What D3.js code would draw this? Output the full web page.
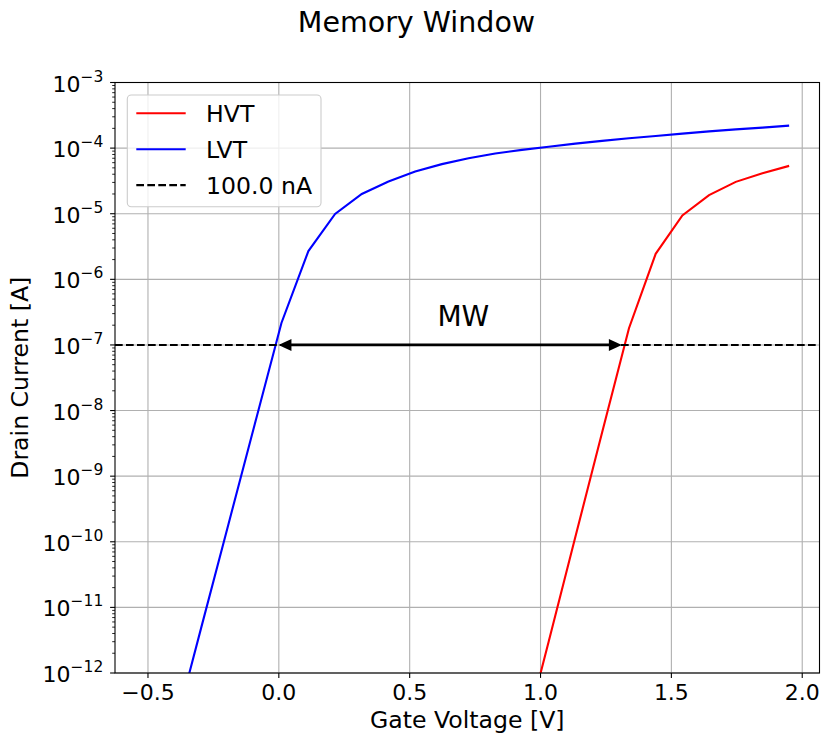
<!DOCTYPE html>
<html>
<head>
<meta charset="utf-8">
<script src="https://cdn.jsdelivr.net/npm/d3@7"></script>
<style>
  body { margin: 0; background: #fff; }
  svg text { font-family: "DejaVu Sans", sans-serif; fill: #000; }
</style>
</head>
<body>
<svg id="chart"></svg>
<script>
// gate voltage sweep [V]
var gateVoltage = [-0.5, -0.398, -0.296, -0.194, -0.092, 0.010, 0.113, 0.215, 0.317, 0.419,
                   0.521, 0.623, 0.725, 0.827, 0.929, 1.031, 1.133, 1.235, 1.338, 1.440,
                   1.542, 1.644, 1.746, 1.848, 1.950];
// drain current [A]
var lvtCurrent = [4.1e-15, 1.4e-13, 5.0e-12, 1.76e-10, 6.2e-9, 2.16e-7, 2.7e-6, 9.9e-6, 2.0e-5, 3.1e-5,
                  4.4e-5, 5.7e-5, 7.0e-5, 8.3e-5, 9.4e-5, 1.05e-4, 1.17e-4, 1.29e-4, 1.41e-4, 1.53e-4,
                  1.66e-4, 1.80e-4, 1.93e-4, 2.05e-4, 2.2e-4];
var hvtCurrent = [null, null, null, null, null, null, null, null, null, null,
                  null, null, null, null, 7.8e-14, 3.0e-12, 1.18e-10, 4.6e-9, 1.8e-7, 2.45e-6,
                  9.4e-6, 1.92e-5, 3.06e-5, 4.15e-5, 5.36e-5];
var readCurrent = 1e-7; // 100.0 nA
var xTicks = [-0.5, 0.0, 0.5, 1.0, 1.5, 2.0];
var yExponents = [-3, -4, -5, -6, -7, -8, -9, -10, -11, -12];
var seriesNames = ["HVT", "LVT", "100.0 nA"];

var svgWidth = 829, svgHeight = 739;
var margin = { top: 82.5, right: 9.5, bottom: 66, left: 115 };
var width = svgWidth - margin.left - margin.right;
var height = svgHeight - margin.top - margin.bottom;

var svg = d3.select("#chart")
            .attr("width", svgWidth)
            .attr("height", svgHeight);

var g = svg.append("g")
           .attr("transform", "translate(" + margin.left + "," + margin.top + ")");

var x = d3.scaleLinear().domain([-0.626, 2.066]).range([0, width]);
var y = d3.scaleLog().domain([1e-12, 1e-3]).range([height, 0]);

// grid
g.append("g").selectAll("line")
  .data(xTicks).enter().append("line")
  .attr("x1", function(d) { return x(d); }).attr("x2", function(d) { return x(d); })
  .attr("y1", 0).attr("y2", height)
  .attr("stroke", "#b0b0b0").attr("stroke-width", 1.1);
g.append("g").selectAll("line")
  .data(yExponents).enter().append("line")
  .attr("x1", 0).attr("x2", width)
  .attr("y1", function(d) { return y(Math.pow(10, d)); })
  .attr("y2", function(d) { return y(Math.pow(10, d)); })
  .attr("stroke", "#b0b0b0").attr("stroke-width", 1.1);

// clip
g.append("defs").append("clipPath").attr("id", "clip")
  .append("rect").attr("width", width).attr("height", height);

var plot = g.append("g").attr("clip-path", "url(#clip)");

var line = d3.line()
  .defined(function(d) { return d[1] != null; })
  .x(function(d) { return x(d[0]); })
  .y(function(d) { return y(d[1]); });

function pairs(vals) {
  return gateVoltage.map(function(v, i) { return [v, vals[i]]; });
}

plot.append("path").datum(pairs(hvtCurrent))
  .attr("fill", "none").attr("stroke", "red").attr("stroke-width", 2.1)
  .attr("d", line);
plot.append("path").datum(pairs(lvtCurrent))
  .attr("fill", "none").attr("stroke", "blue").attr("stroke-width", 2.1)
  .attr("d", line);
plot.append("line")
  .attr("x1", 0).attr("x2", width)
  .attr("y1", y(readCurrent)).attr("y2", y(readCurrent))
  .attr("stroke", "#000").attr("stroke-width", 2.1)
  .attr("stroke-dasharray", "7.7,3.3");

// threshold voltage at read current (log interpolation)
function crossing(vals) {
  for (var i = 1; i < vals.length; i++) {
    if (vals[i - 1] != null && vals[i - 1] < readCurrent && vals[i] >= readCurrent) {
      var a = Math.log10(vals[i - 1]), b = Math.log10(vals[i]);
      var t = (Math.log10(readCurrent) - a) / (b - a);
      return gateVoltage[i - 1] + t * (gateVoltage[i] - gateVoltage[i - 1]);
    }
  }
}
var vtLow = crossing(lvtCurrent), vtHigh = crossing(hvtCurrent);

// memory window arrow
var ay = y(readCurrent);
var xa = x(vtLow) + 2.8, xb = x(vtHigh) - 2.8;
var headL = 13, headW = 6;
g.append("line")
  .attr("x1", xa + headL - 1).attr("x2", xb - headL + 1)
  .attr("y1", ay).attr("y2", ay)
  .attr("stroke", "#000").attr("stroke-width", 2.8);
g.append("path")
  .attr("d", "M" + xa + "," + ay + "L" + (xa + headL) + "," + (ay - headW) + "L" + (xa + headL) + "," + (ay + headW) + "Z")
  .attr("fill", "#000");
g.append("path")
  .attr("d", "M" + xb + "," + ay + "L" + (xb - headL) + "," + (ay - headW) + "L" + (xb - headL) + "," + (ay + headW) + "Z")
  .attr("fill", "#000");
g.append("text")
  .attr("x", x(0.705)).attr("y", ay - 18.5)
  .attr("text-anchor", "middle")
  .style("font-size", "28px")
  .text("MW");

// spines
g.append("rect").attr("width", width).attr("height", height)
  .attr("fill", "none").attr("stroke", "#000").attr("stroke-width", 1.1);

// x ticks
var xt = g.append("g").attr("transform", "translate(0," + height + ")");
xt.selectAll("line").data(xTicks).enter().append("line")
  .attr("x1", function(d) { return x(d); }).attr("x2", function(d) { return x(d); })
  .attr("y1", 0).attr("y2", 4.9)
  .attr("stroke", "#000").attr("stroke-width", 1.1);
xt.selectAll("text").data(xTicks).enter().append("text")
  .attr("x", function(d) { return x(d); }).attr("y", 27)
  .attr("text-anchor", "middle")
  .style("font-size", "22px")
  .text(function(d) { return d3.format(".1f")(d).replace("-", "\u2212"); });

// y ticks (log, with minor ticks)
var yt = g.append("g");
var minors = [];
yExponents.forEach(function(e) {
  if (e < -3) for (var k = 2; k <= 9; k++) minors.push(k * Math.pow(10, e));
});
yt.selectAll("line.minor").data(minors).enter().append("line")
  .attr("class", "minor")
  .attr("x1", -2.8).attr("x2", 0)
  .attr("y1", function(d) { return y(d); }).attr("y2", function(d) { return y(d); })
  .attr("stroke", "#000").attr("stroke-width", 0.85);
yt.selectAll("line.major").data(yExponents).enter().append("line")
  .attr("class", "major")
  .attr("x1", -4.9).attr("x2", 0)
  .attr("y1", function(d) { return y(Math.pow(10, d)); })
  .attr("y2", function(d) { return y(Math.pow(10, d)); })
  .attr("stroke", "#000").attr("stroke-width", 1.1);
var ylab = yt.selectAll("text").data(yExponents).enter().append("text")
  .attr("x", -11.7)
  .attr("y", function(d) { return y(Math.pow(10, d)) + 9; })
  .attr("text-anchor", "end")
  .style("font-size", "22px");
ylab.append("tspan").text("10");
ylab.append("tspan").attr("dy", -10).style("font-size", "15.5px")
  .text(function(d) { return "\u2212" + Math.abs(d); });

// axis labels
svg.append("text")
  .attr("x", margin.left + width / 2).attr("y", 728)
  .attr("text-anchor", "middle")
  .style("font-size", "23.6px")
  .text("Gate Voltage [V]");
svg.append("text")
  .attr("transform", "translate(27.5," + (margin.top + height / 2) + ") rotate(-90)")
  .attr("text-anchor", "middle")
  .style("font-size", "23.6px")
  .text("Drain Current [A]");

// title
svg.append("text")
  .attr("x", 416.5).attr("y", 31.5)
  .attr("text-anchor", "middle")
  .style("font-size", "28.5px")
  .text("Memory Window");

// legend
var leg = svg.append("g");
leg.append("rect")
  .attr("x", 127.3).attr("y", 95).attr("width", 193.7).attr("height", 111.7)
  .attr("rx", 4).attr("ry", 4)
  .attr("fill", "#fff").attr("fill-opacity", 0.8)
  .attr("stroke", "#cccccc").attr("stroke-width", 1.1);
var legStyles = [
  { color: "red", dash: null },
  { color: "blue", dash: null },
  { color: "#000", dash: "7.7,3.3" }
];
seriesNames.forEach(function(name, i) {
  var ly = 113.3 + i * 35.9;
  leg.append("line")
    .attr("x1", 136.3).attr("x2", 185.7).attr("y1", ly).attr("y2", ly)
    .attr("stroke", legStyles[i].color).attr("stroke-width", 2.1)
    .attr("stroke-dasharray", legStyles[i].dash);
  leg.append("text")
    .attr("x", 206).attr("y", ly + 8.7)
    .style("font-size", "23.6px")
    .text(name);
});
</script>
</body>
</html>
